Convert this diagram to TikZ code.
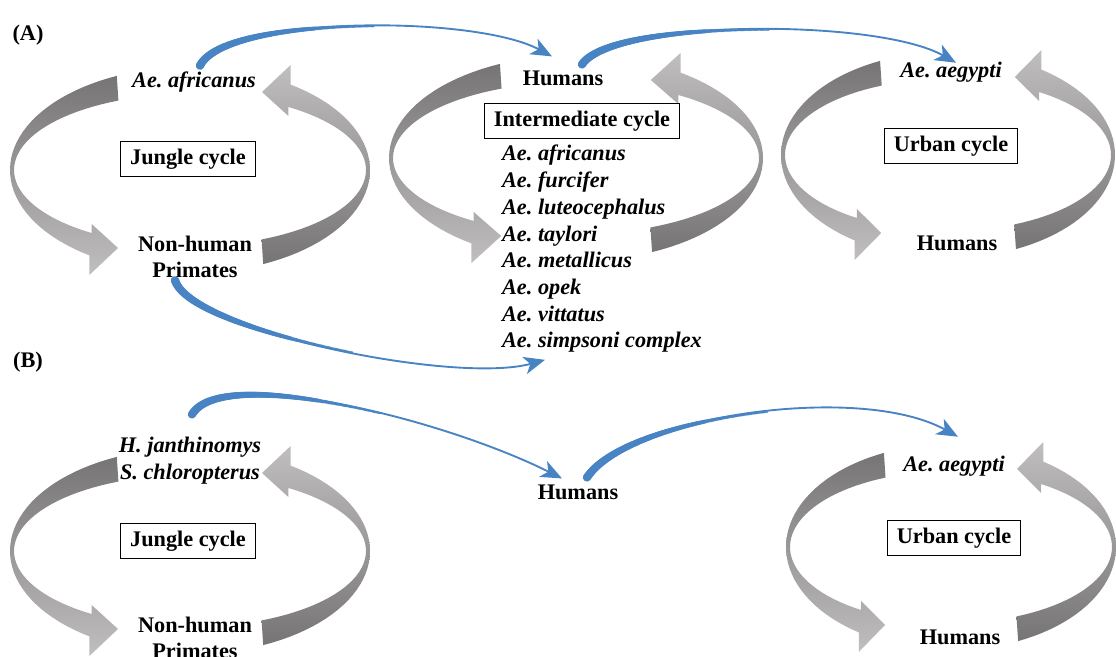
\documentclass[tikz,border=0pt]{standalone}
\usepackage{fontspec}
\setmainfont{Liberation Serif}
\usetikzlibrary{arrows.meta,calc,decorations.markings}

\definecolor{flowblue}{RGB}{72,132,196}
\definecolor{cycledark}{RGB}{118,116,116}
\definecolor{cyclelight}{RGB}{192,190,190}
\newcommand{\figfont}{\fontsize{19}{22.8}\selectfont}

% one ribbon arrow of a cycle: #1 = 1 (left) or -1 (right), #2 = x radius
\newcommand{\halfcycle}[4]{%
  \shade[top color=#3,bottom color=#4]
    plot[domain=114:236,samples=40] ({#1*#2*cos(\x)},{#1*103*sin(\x)})
    -- ({#1*(-0.559)*#2},{#1*(-105)})
    -- ({#1*(-0.4)*#2},{#1*(-78)})
    -- ({#1*(-0.559)*(#2-4)},{#1*(-54)})
    -- plot[domain=236:114,samples=40] ({#1*(#2-4)*cos(\x)},{#1*76*sin(\x)})
    -- cycle;}
% both arrows of a cycle round the centre (#1,#2)
\newcommand{\cyclering}[3]{%
  \begin{scope}[shift={(#1,#2)}]
    \halfcycle{1}{#3}{cycledark}{cyclelight}
    \halfcycle{-1}{#3}{cyclelight}{cycledark}
  \end{scope}}

\begin{document}
\frenchspacing
\begin{tikzpicture}[x=0.3mm,y=0.3mm,
    lbl/.style={font=\figfont\bfseries},
    spec/.style={font=\figfont\bfseries\itshape},
    cyclebox/.style={draw,line width=0.7pt,font=\figfont\bfseries,inner xsep=8pt,inner ysep=6.5pt},
    flow/.style={draw=flowblue,line width=1.6pt,-{Stealth[length=18pt,width=15pt,inset=5pt]},
      postaction={decorate,decoration={markings,
        mark=between positions 0 and 0.5 step 1pt with {\fill[flowblue] (0,0)
          circle[radius={3.6pt-2.8pt*\pgfkeysvalueof{/pgf/decoration/mark info/distance from start}/(0.5*\pgfdecoratedpathlength)}];}}}}]
\clip (0,0) rectangle (1116,657);
% gray cycles
\cyclering{190}{487}{180}
\cyclering{576}{499}{187}
\cyclering{948}{502}{167}
\cyclering{190}{106}{180}
\cyclering{951}{110}{165}
% (A)
\node[lbl] (pa) at (28,622) {(A)};
\node[spec] (afrA) at (194,575) {Ae. africanus};
\node[cyclebox] (jungA) at (188,498) {Jungle cycle};
\node[lbl,align=center] (priA) at (195,400) {Non-human\\Primates};
\node[lbl] (humA) at (563,579) {Humans};
\node[cyclebox] (interA) at (582,536) {Intermediate cycle};
\node[spec,align=left,anchor=west] (spp) at (498,408) {Ae. africanus\\Ae. furcifer\\Ae. luteocephalus\\Ae. taylori\\Ae. metallicus\\Ae. opek\\Ae. vittatus\\Ae. simpsoni complex};
\node[spec] (aegA) at (951,585) {Ae. aegypti};
\node[cyclebox] (urbA) at (951,511) {Urban cycle};
\node[lbl] (humUA) at (957,414) {Humans};
% (B)
\node[lbl] (pb) at (28,295) {(B)};
\node[spec,align=center] (hjB) at (190,196) {H. janthinomys\\S. chloropterus};
\node[cyclebox] (jungB) at (188,116) {Jungle cycle};
\node[lbl,align=center] (priB) at (195,19) {Non-human\\Primates};
\node[lbl] (humB) at (578,165) {Humans};
\node[spec] (aegB) at (954,191) {Ae. aegypti};
\node[cyclebox] (urbB) at (954,119) {Urban cycle};
\node[lbl] (humUB) at (960,20) {Humans};
% blue transfers
\draw[flow] ($(afrA.north)+(6,2)$) .. controls +(25,50) and +(-78,42) .. ($(humA.north)+(-11,10)$);
\draw[flow] ($(humA.north)+(19,2)$) .. controls +(30,45) and +(-80,45) .. ($(aegA.north)+(5,-5)$);
\draw[flow] ($(priA.south)+(-20,2)$) .. controls +(15,-50) and +(-90,-25) .. ($(spp.south west)+(47,-3)$);
\draw[flow] ($(hjB.north)+(2,19)$) .. controls +(30,50) and +(-120,60) .. ($(humB.north)+(-16,2)$);
\draw[flow] ($(humB.north)+(9,3)$) .. controls +(40,60) and +(-100,55) .. ($(aegB.north)+(4,15)$);
\end{tikzpicture}
\end{document}
